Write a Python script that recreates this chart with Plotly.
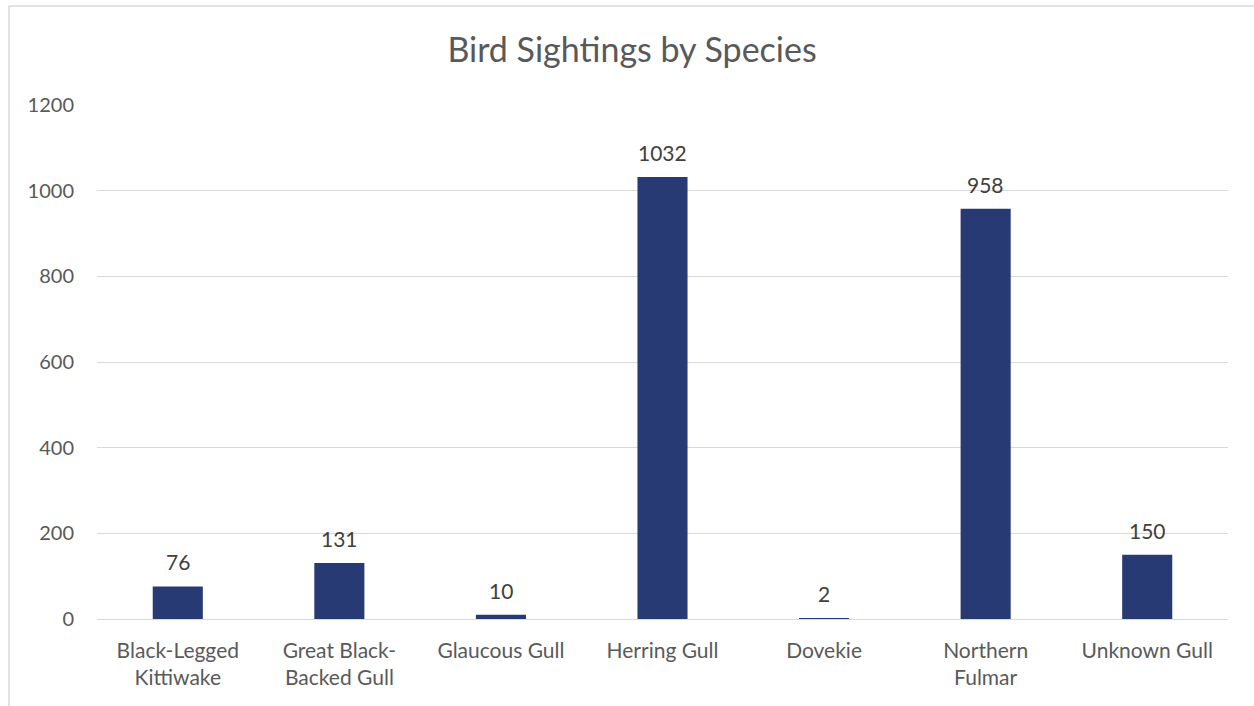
import plotly.graph_objects as go

categories = ["Black-Legged<br>Kittiwake", "Great Black-<br>Backed Gull", "Glaucous Gull",
              "Herring Gull", "Dovekie", "Northern<br>Fulmar", "Unknown Gull"]
sightings = [76, 131, 10, 1032, 2, 958, 150]
y_ticks = [0, 200, 400, 600, 800, 1000, 1200]

FONT = "Lato, Open Sans, sans-serif"

fig = go.Figure(go.Bar(
    x=categories, y=sightings,
    marker=dict(color="#283A74", line=dict(width=0)),
))

for c, v in zip(categories, sightings):
    fig.add_annotation(x=c, y=v, text=str(v), showarrow=False,
                       yanchor="bottom", yshift=10,
                       font=dict(size=21, color="#404040", family=FONT))

fig.update_layout(
    width=1254, height=706,
    paper_bgcolor="white", plot_bgcolor="white",
    margin=dict(l=97, r=26, t=105, b=87),
    bargap=0.69,
    showlegend=False,
    title=dict(text="Bird Sightings by Species", x=0.504, xanchor="center",
               y=0.929, yanchor="middle",
               font=dict(size=34, color="#595959", family=FONT)),
    font=dict(family=FONT, color="#595959", size=21),
    xaxis=dict(showgrid=False, showline=False, ticks="", ticklabelstandoff=17,
               tickfont=dict(size=21, color="#595959")),
    yaxis=dict(range=[0, 1200], tickvals=y_ticks, showgrid=True,
               gridcolor="#D9D9D9", gridwidth=1.3, zeroline=True,
               zerolinecolor="#D9D9D9", zerolinewidth=1.3, showline=False,
               ticks="", ticklabelstandoff=22,
               tickfont=dict(size=20, color="#595959")),
    shapes=[dict(type="rect", xref="paper", yref="paper",
                 x0=-0.0778, x1=1.2, y0=-0.3, y1=1.1926,
                 line=dict(color="#D9D9D9", width=1.5), fillcolor="rgba(0,0,0,0)",
                 layer="below")],
)

fig.write_html("out.html", config={"displayModeBar": False},
               post_script="document.body.style.margin='0';")
